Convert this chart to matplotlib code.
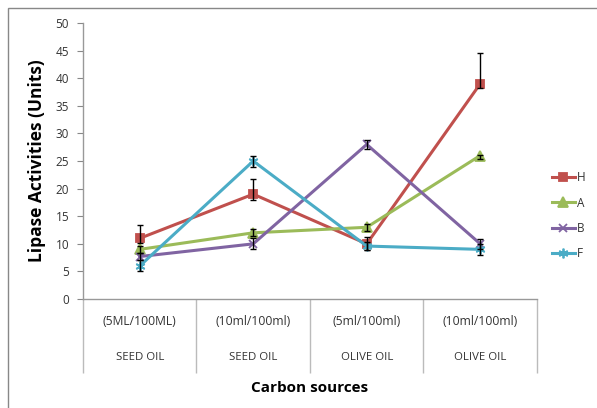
import matplotlib
matplotlib.use("Agg")
import matplotlib.pyplot as plt
from matplotlib.patches import Rectangle

plt.rcParams['font.family'] = ['Open Sans', 'DejaVu Sans']

# categories (two-row labels)
conc_labels = ['(5ML/100ML)', '(10ml/100ml)', '(5ml/100ml)', '(10ml/100ml)']
oil_labels = ['SEED OIL', 'SEED OIL', 'OLIVE OIL', 'OLIVE OIL']

# series values
H = [11, 19, 10, 39]
A = [9, 12, 13, 26]
B = [7.7, 10, 28, 10]
F = [6, 25, 9.6, 9]

# error bars (lower, upper)
H_err = [[0.8, 1.0, 1.2, 0.8], [2.5, 2.8, 1.2, 5.6]]
A_err = [[0.6, 0.6, 0.6, 0.6], [0.6, 0.6, 0.6, 0.1]]
B_err = [[0.6, 1.0, 0.9, 0.9], [0.6, 1.0, 0.9, 0.9]]
F_err = [[1.0, 1.0, 0.8, 1.0], [1.0, 1.0, 0.8, 1.0]]

series = [
    ('H', H, H_err, '#C0504D', 's', 6),
    ('A', A, A_err, '#9BBB59', '^', 6.5),
    ('B', B, B_err, '#8064A2', 'x', 6),
    ('F', F, F_err, '#4BACC6', (6, 2, 0), 7),
]

fig = plt.figure(figsize=(5.97, 4.08), dpi=100)
ax = fig.add_axes([0.139, 0.267, 0.7605, 0.6766])

x = [i + 0.5 for i in range(len(conc_labels))]
handles = []
for name, vals, err, color, marker, ms in series:
    ax.errorbar(x, vals, yerr=err, fmt='none', ecolor='black', elinewidth=1,
                capsize=2.5, capthick=1, zorder=4)
    ln, = ax.plot(x, vals, color=color, lw=2.2, marker=marker, markersize=ms,
                  markerfacecolor=color, markeredgecolor=color, markeredgewidth=1.3,
                  label=name, zorder=3)
    handles.append(ln)

ax.set_xlim(0, 4)
ax.set_ylim(0, 50)
ax.set_yticks(range(0, 51, 5))
ax.tick_params(axis='y', direction='out', length=4, color='#888888',
               labelsize=8.5, labelcolor='#333333', pad=6)
ax.set_xticks([])
for s in ['top', 'right']:
    ax.spines[s].set_visible(False)
for s in ['left', 'bottom']:
    ax.spines[s].set_color('#999999')
    ax.spines[s].set_linewidth(1)

# category dividers under the axis
trans = ax.get_xaxis_transform()
ax.vlines(range(0, 5), 0, -0.268, transform=trans, colors='#BBBBBB', lw=1, clip_on=False)
for xi, c, o in zip(x, conc_labels, oil_labels):
    ax.text(xi, -0.08, c, transform=trans, ha='center', va='center', fontsize=8.7, color='#333333')
    ax.text(xi, -0.21, o, transform=trans, ha='center', va='center', fontsize=8.2, color='#333333')

ax.set_ylabel('Lipase Activities (Units)', fontsize=12.5, fontweight='bold', labelpad=7)
fig.text(0.519, 0.049, 'Carbon sources', ha='center', va='center', fontsize=11, fontweight='bold')

leg = fig.legend(handles=handles, loc='upper left', bbox_to_anchor=(0.915, 0.595),
                 frameon=False, fontsize=8.5, handlelength=1.9, handletextpad=0.2,
                 labelspacing=1.05, borderpad=0)
for t in leg.get_texts():
    t.set_color('#333333')

# outer chart frame
fig.patches.append(Rectangle((0.0134, -0.1), 1.2, 1.08, transform=fig.transFigure,
                             fill=False, edgecolor='#888888', lw=1))

fig.savefig('out.png', dpi=100)
